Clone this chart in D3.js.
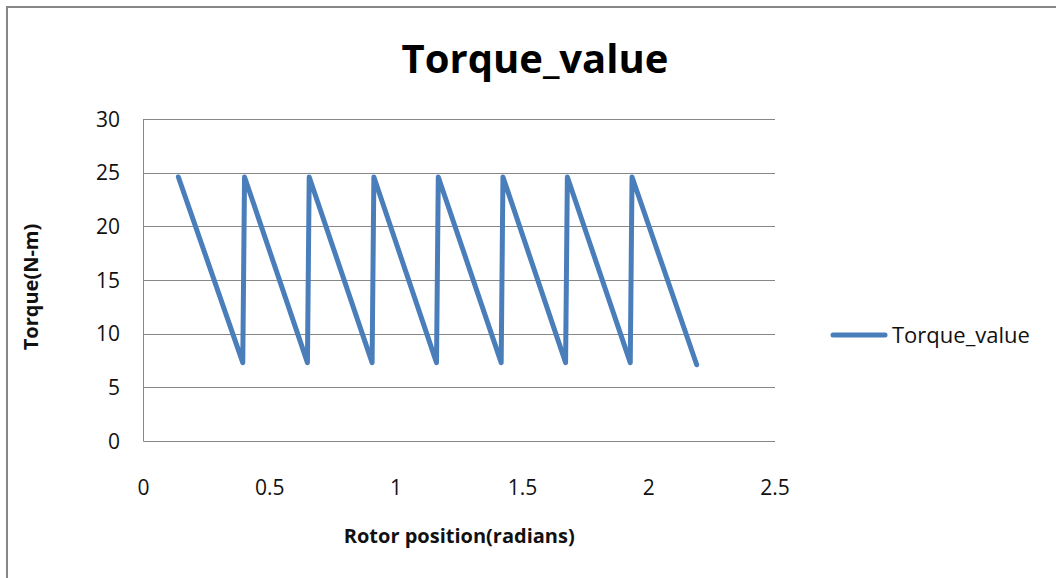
<!DOCTYPE html>
<html>
<head>
<meta charset="utf-8">
<script src="https://cdn.jsdelivr.net/npm/d3@7"></script>
<style>
  body { margin: 0; background: #fff; }
  text { font-family: "Open Sans", "Noto Sans", sans-serif; }
</style>
</head>
<body>
<div id="wrapper"></div>
<script>
const w = 1056
const h = 578

// rotor position (radians) and torque (N-m)
const positions = [0.138, 0.393, 0.400, 0.649, 0.656, 0.905, 0.912, 1.160, 1.167,
  1.416, 1.423, 1.671, 1.678, 1.927, 1.934, 2.190]
const torques = [24.6, 7.3, 24.6, 7.3, 24.6, 7.3, 24.6, 7.3, 24.6,
  7.3, 24.6, 7.3, 24.6, 7.3, 24.6, 7.1]
const xTicks = [0, 0.5, 1, 1.5, 2, 2.5]
const yTicks = [0, 5, 10, 15, 20, 25, 30]
const seriesName = 'Torque_value'

const plot = { left: 143.5, right: 775, top: 119, bottom: 441 }

const svg = d3.select('#wrapper').append('svg')
  .attr('width', w)
  .attr('height', h)

// outer chart frame (right and bottom edges run off the page)
svg.append('rect')
  .attr('x', 7).attr('y', 7)
  .attr('width', w + 20).attr('height', h + 20)
  .attr('fill', 'none')
  .attr('stroke', '#878787')
  .attr('stroke-width', 2)

const x = d3.scaleLinear().domain([0, 2.5]).range([plot.left, plot.right])
const y = d3.scaleLinear().domain([0, 30]).range([plot.bottom, plot.top])

// gridlines
svg.append('g')
  .selectAll('line')
  .data(yTicks)
  .join('line')
  .attr('x1', plot.left).attr('x2', plot.right)
  .attr('y1', d => Math.round(y(d)) + 0.5).attr('y2', d => Math.round(y(d)) + 0.5)
  .attr('stroke', '#878787')
  .attr('stroke-width', 1)

// left axis line
svg.append('line')
  .attr('x1', plot.left).attr('x2', plot.left)
  .attr('y1', plot.top).attr('y2', plot.bottom + 0.5)
  .attr('stroke', '#878787')

// y tick labels
svg.append('g')
  .selectAll('text')
  .data(yTicks)
  .join('text')
  .attr('x', 120)
  .attr('y', d => y(d) + 7.5)
  .attr('text-anchor', 'end')
  .style('font-size', '21px')
  .style('fill', '#111')
  .text(d => d)

// x tick labels
svg.append('g')
  .selectAll('text')
  .data(xTicks)
  .join('text')
  .attr('x', d => x(d))
  .attr('y', 495)
  .attr('text-anchor', 'middle')
  .style('font-size', '21px')
  .style('fill', '#111')
  .text(d => d)

// the series
const line = d3.line()
  .x((d, i) => x(positions[i]))
  .y(d => y(d))

svg.append('path')
  .datum(torques)
  .attr('d', line)
  .attr('fill', 'none')
  .attr('stroke', '#4a7ebb')
  .attr('stroke-width', 5)
  .attr('stroke-linejoin', 'round')
  .attr('stroke-linecap', 'round')

// title
svg.append('text')
  .attr('x', 535)
  .attr('y', 73)
  .attr('text-anchor', 'middle')
  .style('font-size', '40px')
  .style('font-weight', 'bold')
  .style('fill', '#000')
  .text(seriesName)

// axis titles
svg.append('text')
  .attr('x', (plot.left + plot.right) / 2)
  .attr('y', 543)
  .attr('text-anchor', 'middle')
  .style('font-size', '20px')
  .style('font-weight', 'bold')
  .style('fill', '#111')
  .text('Rotor position(radians)')

svg.append('text')
  .attr('transform', 'translate(38,' + ((plot.top + plot.bottom) / 2 + 7) + ') rotate(-90)')
  .attr('text-anchor', 'middle')
  .style('font-size', '20px')
  .style('font-weight', 'bold')
  .style('fill', '#111')
  .text('Torque(N-m)')

// legend
const legend = svg.append('g')
legend.append('line')
  .attr('x1', 833).attr('x2', 885)
  .attr('y1', 335).attr('y2', 335)
  .attr('stroke', '#4a7ebb')
  .attr('stroke-width', 5)
  .attr('stroke-linecap', 'round')
legend.append('text')
  .attr('x', 892)
  .attr('y', 343)
  .style('font-size', '22px')
  .style('fill', '#111')
  .text(seriesName)
</script>
</body>
</html>
